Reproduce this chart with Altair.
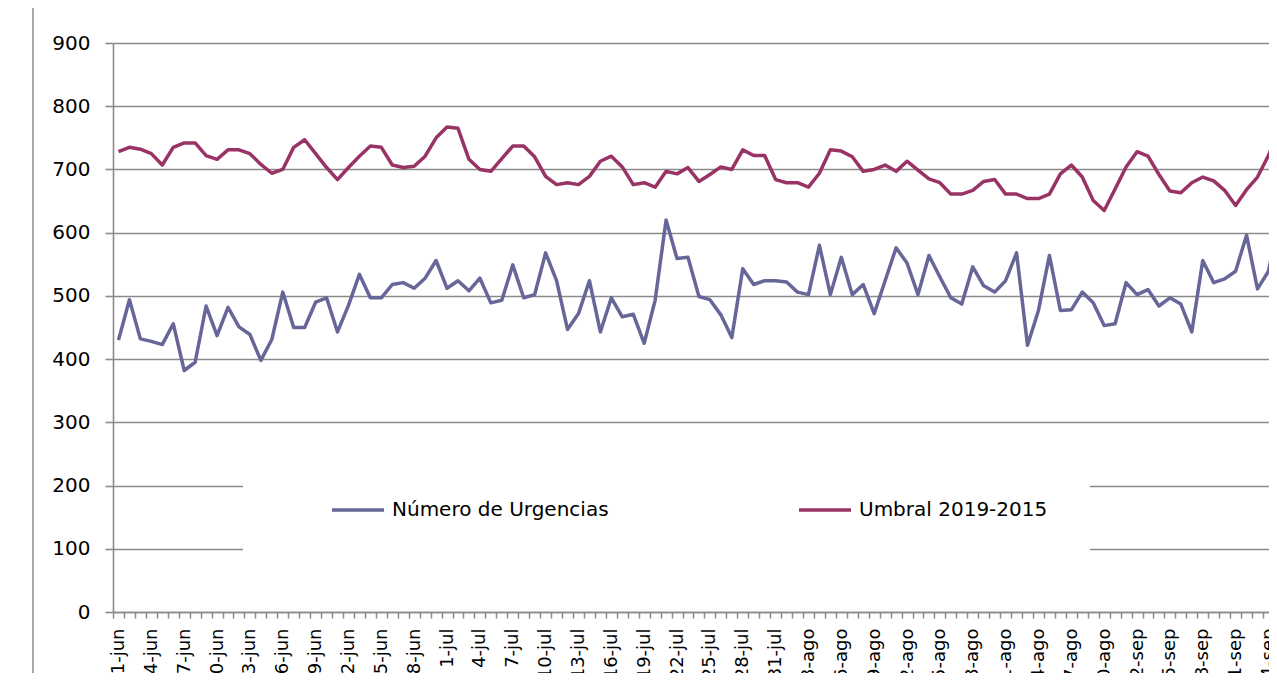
import altair as alt
import pandas as pd

# ---- data ----
START = "2019-06-01"
MESES = {6: "jun", 7: "jul", 8: "ago", 9: "sep"}

URGENCIAS = [430, 494, 432, 428, 423, 456, 382, 395, 484, 437,
             482, 451, 439, 398, 431, 506, 450, 450, 490, 497,
             443, 485, 534, 497, 497, 518, 521, 512, 528, 556,
             512, 524, 508, 528, 489, 493, 549, 497, 502, 568,
             524, 447, 472, 524, 443, 497, 467, 471, 425, 493,
             620, 559, 561, 499, 494, 470, 434, 543, 518, 524,
             524, 522, 506, 502, 580, 502, 561, 502, 518, 472,
             524, 576, 552, 502, 564, 530, 497, 487, 546, 516,
             506, 524, 568, 422, 477, 564, 477, 478, 506, 489,
             453, 456, 521, 502, 510, 484, 497, 487, 443, 556,
             521, 527, 539, 596, 511, 539, 620]

UMBRAL = [728, 735, 732, 725, 707, 735, 742, 742, 722, 716,
          731, 731, 725, 708, 694, 700, 735, 747, 725, 703,
          684, 703, 721, 737, 735, 707, 703, 705, 721, 750,
          767, 765, 716, 700, 697, 717, 737, 737, 720, 689,
          676, 679, 676, 689, 713, 721, 704, 676, 679, 672,
          697, 693, 703, 681, 692, 704, 700, 731, 722, 722,
          684, 679, 679, 672, 694, 731, 729, 720, 697, 700,
          707, 697, 713, 699, 685, 679, 661, 661, 667, 681,
          684, 661, 661, 654, 654, 661, 693, 707, 688, 651,
          635, 669, 704, 728, 721, 692, 666, 663, 679, 688,
          682, 667, 643, 668, 688, 722, 765]

SERIES = ["Número de Urgencias", "Umbral 2019-2015"]
COLORS = ["#666699", "#993366"]

dates = pd.date_range(START, periods=len(URGENCIAS), freq="D")
DAY_LABELS = [f"{d.day}-{MESES[d.month]}" for d in dates]

rows = []
for i in range(len(URGENCIAS)):
    rows.append({"idx": i, "serie": SERIES[0], "valor": URGENCIAS[i]})
    rows.append({"idx": i, "serie": SERIES[1], "valor": UMBRAL[i]})
df = pd.DataFrame(rows)

GRAY = "#8a8a8a"
FONT = "DejaVu Sans"
NBSP = "\u00a0"

label_array = "[" + ",".join(f"'{s}'" for s in DAY_LABELS) + "]"
label_expr = (f"(datum.value >= 0 && datum.value % 3 == 0) ? "
              f"{label_array}[datum.value] : ''")
x_values = [i / 2 for i in range(-1, 2 * len(URGENCIAS))]

x_enc = alt.X(
    "idx:Q",
    scale=alt.Scale(domain=[-0.5, 105.05], nice=False, zero=False),
    axis=alt.Axis(
        values=x_values,
        labelExpr=label_expr,
        labelAngle=270,
        labelAlign="right",
        labelBaseline="middle",
        labelOverlap=False,
        labelFontSize=18,
        labelFont=FONT,
        labelColor="black",
        labelPadding=10,
        tickSize=6,
        tickColor=GRAY,
        tickWidth=1.5,
        tickOpacity={"condition": {"test": "datum.value % 1 != 0", "value": 1}, "value": 0},
        domainColor=GRAY,
        domainWidth=1.5,
        grid=False,
        title=None,
    ),
)

y_enc = alt.Y(
    "valor:Q",
    scale=alt.Scale(domain=[0, 900], nice=False),
    axis=alt.Axis(
        values=list(range(0, 1000, 100)),
        grid=True,
        gridColor=GRAY,
        gridWidth=1.6,
        domainColor=GRAY,
        domainWidth=1.6,
        tickColor=GRAY,
        tickWidth=1.6,
        tickSize=8,
        labelFontSize=20,
        labelFont=FONT,
        labelColor="black",
        labelPadding=15,
        title=None,
    ),
)

lines = alt.Chart(df).mark_line(strokeWidth=3.5, strokeJoin="round", clip=True).encode(
    x=x_enc,
    y=y_enc,
    color=alt.Color(
        "serie:N",
        scale=alt.Scale(domain=SERIES, range=COLORS),
        legend=alt.Legend(
            orient="none",
            legendX=130,
            legendY=397,
            direction="horizontal",
            columns=2,
            gridAlign="all",
            fillColor="white",
            padding=42,
            title=NBSP,
            titleOrient="left",
            titlePadding=45,
            titleFontSize=10,
            symbolType="stroke",
            symbolSize=2704,
            symbolStrokeWidth=3.5,
            labelFontSize=20,
            labelFont=FONT,
            labelColor="black",
            labelOffset=6,
            labelLimit=1000,
            columnPadding=183,
        ),
    ),
)

frame = alt.Chart(pd.DataFrame({"k": [0]})).mark_rule(color=GRAY, strokeWidth=1.5).encode(
    x=alt.value(-80), y=alt.value(-50), y2=alt.value(720)
)

chart = alt.layer(frame, lines).properties(
    width=1156,
    height=569,
    autosize=alt.AutoSizeParams(type="none"),
    padding={"left": 105, "top": 35, "right": 0, "bottom": 61},
).configure_view(stroke=None).configure(background="white")

chart.save("out.html", embed_options={"renderer": "svg", "actions": False})
